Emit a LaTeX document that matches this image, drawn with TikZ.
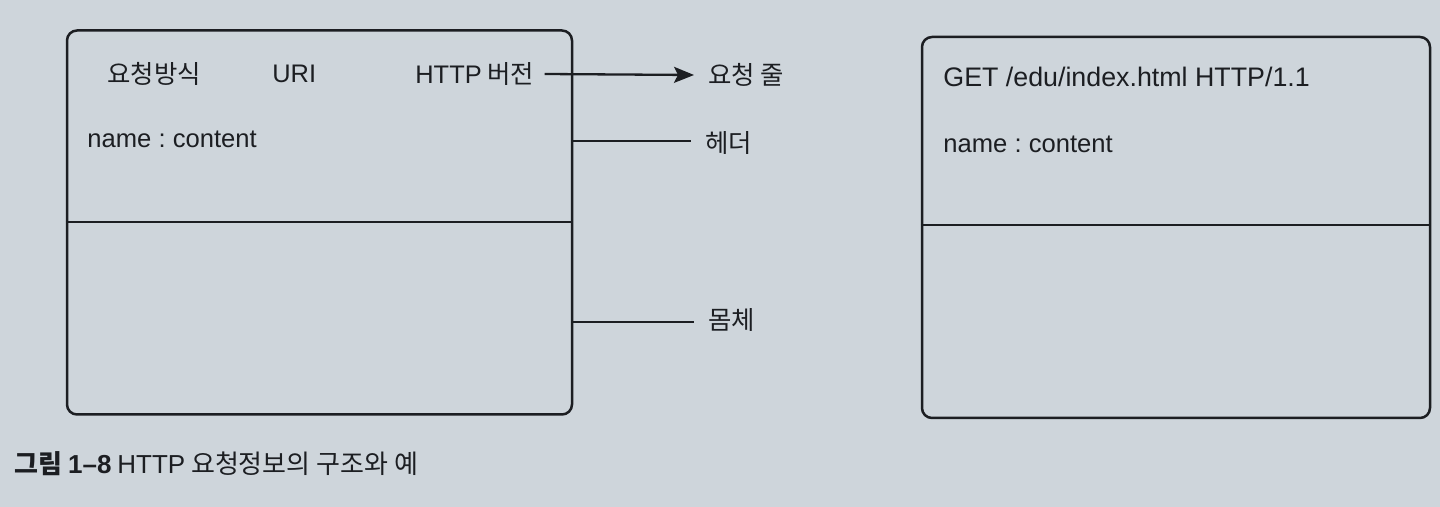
\documentclass[tikz,border=0pt]{standalone}
\usepackage{fontspec}
\setmainfont{Noto Sans CJK KR}
\newfontfamily\lat{Liberation Sans}
\usetikzlibrary{arrows.meta}
\definecolor{paper}{RGB}{206,213,219}
\definecolor{ink}{RGB}{28,30,34}
\frenchspacing
\begin{document}
\begin{tikzpicture}[x=0.5pt,y=-0.5pt,
  panel/.style={draw=ink,line width=1.25pt,rounded corners=5pt,minimum width=252.5pt,minimum height=192pt,inner sep=0pt},
  lbl/.style={text=ink,font=\fontsize{12.7}{14}\selectfont,inner sep=0pt,anchor=west},
  conn/.style={draw=ink,line width=1.15pt},
  captext/.style={text=ink,font=\fontsize{13}{15}\selectfont,inner sep=0pt,anchor=west}]
\fill[paper] (0,0) rectangle (1440,507);
\useasboundingbox (0,0) rectangle (1440,507);
% left box
\node[panel] (lbox) at (319.5,222.5) {};
\draw[conn] (lbox.west |- 0,222) -- (lbox.east |- 0,222);
\node[lbl] (method) at (107,74) {요청방식};
\node[lbl] (uri) at (272,74) {\lat URI};
\node[lbl] (ver) at (415,74) {{\lat HTTP} 버전};
\node[lbl] (reqline) at (708,75) {요청 줄};
\node[lbl] (lname) at (87,139) {\lat\fontsize{12.8}{14}\selectfont name : content};
\node[lbl] (hdr) at (705,143) {헤더};
\node[lbl] (body) at (708,320) {몸체};
\draw[conn,-{Stealth[length=10pt,width=8pt,inset=2pt]}] (ver.east) ++(10,0) coordinate (vs) -- (reqline.west -| 694,0) coordinate (ve);
\draw[conn] (lbox.east |- hdr.west) ++(0,-2) -- ++(118,0) coordinate (he);
\draw[conn] (lbox.east |- body.west) ++(0,2) -- ++(121,0) coordinate (be);
% right box
\node[panel,minimum width=254pt,minimum height=190.5pt] (rbox) at (1176,227.5) {};
\draw[conn] (rbox.west |- 0,225) -- (rbox.east |- 0,225);
\node[lbl] (get) at (943,77) {\lat\fontsize{13.4}{15}\selectfont GET /edu/index.html HTTP/1.1};
\node[lbl] (rname) at (943,144) {\lat\fontsize{12.8}{14}\selectfont name : content};
% caption
\node[captext] (caption) at (14,464) {\textbf{그림 {\lat 1–8}} {\lat HTTP} 요청정보의 구조와 예};
\end{tikzpicture}
\end{document}
